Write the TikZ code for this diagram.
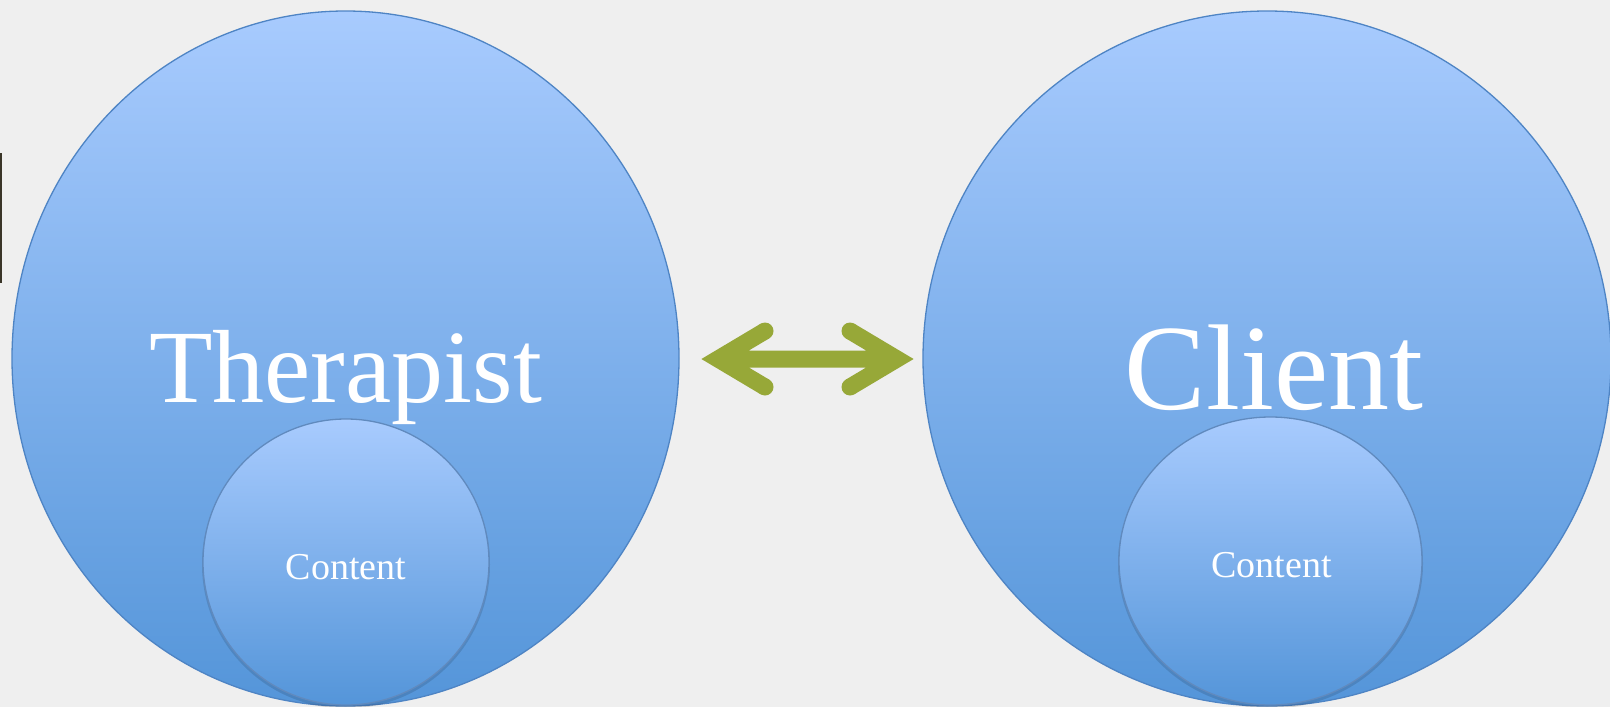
\documentclass[tikz,border=0pt]{standalone}
\usepackage{fontspec}
\setmainfont{Liberation Serif}
\usetikzlibrary{shapes.geometric}
\definecolor{bgcol}{RGB}{239,239,239}
\definecolor{topblue}{RGB}{168,203,254}
\definecolor{botblue}{RGB}{84,149,217}
\definecolor{edgeblue}{RGB}{78,132,196}
\definecolor{smalledge}{RGB}{96,138,190}
\definecolor{arrowgreen}{RGB}{151,168,56}
\definecolor{darkbar}{RGB}{58,53,40}
\tikzset{
  bigcirc/.style={ellipse, inner sep=0pt, draw=edgeblue, line width=1.3pt,
    top color=topblue, bottom color=botblue},
  smallcirc/.style={ellipse, inner sep=0pt, draw=smalledge, line width=1.3pt,
    top color=topblue, bottom color=botblue},
  softshadow/.style={ellipse, inner sep=0pt, fill=black, fill opacity=0.12, draw=none},
  bigtext/.style={text=white, inner sep=0pt, anchor=base},
  arrowfill/.style={fill=arrowgreen, draw=none},
}
\begin{document}
\begin{tikzpicture}[x=1pt,y=-1pt]
\useasboundingbox (0,0) rectangle (1610,707);
\fill[bgcol] (0,0) rectangle (1610,707);
\fill[darkbar] (0,153) rectangle (2,283);
% circles
\node[bigcirc, minimum width=667pt, minimum height=695pt] (therapist) at (345.5,358.5) {};
\node[bigcirc, minimum width=688pt, minimum height=695pt] (client) at (1267,358.5) {};
\node[softshadow, minimum width=288pt, minimum height=288pt] (tshadow) at (346,564.5) {};
\node[softshadow, minimum width=305pt, minimum height=290pt] (cshadow) at (1270.5,563.5) {};
\node[smallcirc, minimum width=286pt, minimum height=286pt] (tcontent) at (346,562) {};
\node[smallcirc, minimum width=303pt, minimum height=288pt] (ccontent) at (1270.5,561) {};
% labels
\node[bigtext, font=\fontsize{104}{110}\selectfont] (tlabel) at (345.5,402) {Therapist};
\node[bigtext, font=\fontsize{122}{130}\selectfont] (clabel) at (1274,409) {Client};
\node[bigtext, font=\fontsize{38}{42}\selectfont] (tclabel) at (346,579) {Content};
\node[bigtext, font=\fontsize{38}{42}\selectfont] (cclabel) at (1271.5,577) {Content};
% double arrow (one filled outline, round arm ends)
\coordinate (ltip) at (701.4,359);
\coordinate (rtip) at (913.6,359);
\coordinate (lu) at (765,331);
\coordinate (ld) at (765,387);
\coordinate (ru) at (850,331);
\coordinate (rd) at (850,387);
\path[arrowfill] (ltip) -- (760.65,323.70) -- (769.35,338.30) -- (748.86,350.5)
  -- (866.14,350.5) -- (845.65,338.30) -- (854.35,323.70) -- (rtip)
  -- (854.35,394.30) -- (845.65,379.70) -- (866.14,367.5) -- (748.86,367.5)
  -- (769.35,379.70) -- (760.65,394.30) -- cycle;
\path[arrowfill] (lu) circle[radius=8.5pt] (ld) circle[radius=8.5pt]
  (ru) circle[radius=8.5pt] (rd) circle[radius=8.5pt];
\end{tikzpicture}
\end{document}
